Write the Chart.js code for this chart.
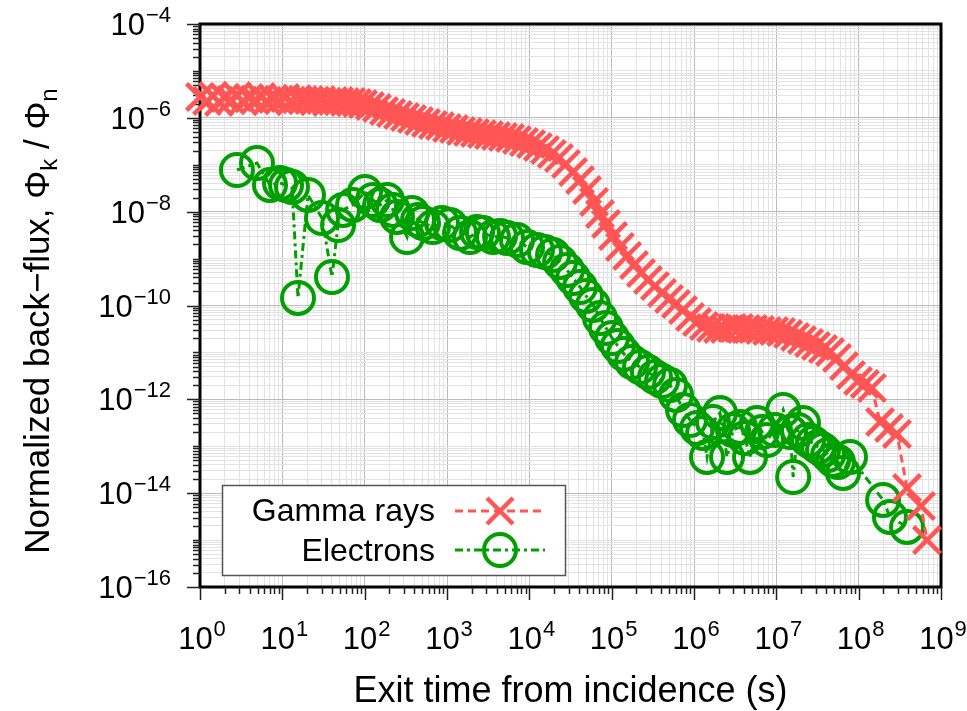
<!DOCTYPE html>
<html>
<head>
<meta charset="utf-8">
<script src="https://cdn.jsdelivr.net/npm/chart.js"></script>
<style>
  html, body { margin: 0; padding: 0; background: #ffffff; }
  #wrap { width: 967px; height: 711px; position: relative; }
</style>
</head>
<body>
<div id="wrap"><canvas id="backFluxChart"></canvas></div>
<script>
// exit time (s) and normalized back-flux
const gammaTime = [
  1.0, 1.22, 1.44, 1.70, 2.01, 2.38, 2.81, 3.33, 3.94, 4.66, 5.51, 6.51, 7.71, 9.12,
  10.8, 12.7, 15.1, 17.8, 21.1, 24.9, 29.5, 34.9, 41.2, 48.8, 57.7, 68.2, 80.7, 95.4,
  116, 141, 172, 209, 254, 309, 376, 457, 556, 676, 822, 1000, 1217, 1479, 1799, 2188,
  2661, 3236, 3936, 4786, 5821, 7080, 8610, 1.05e4, 1.27e4, 1.55e4, 1.88e4, 2.29e4,
  2.79e4, 3.40e4, 4.13e4, 5.02e4, 6.11e4, 7.22e4, 8.54e4, 1.04e5, 1.26e5, 1.54e5,
  1.87e5, 2.27e5, 2.76e5, 3.36e5, 4.09e5, 4.98e5, 6.05e5, 7.36e5, 8.95e5, 1.09e6,
  1.32e6, 1.61e6, 1.96e6, 2.38e6, 2.90e6, 3.52e6, 4.29e6, 5.21e6, 6.34e6, 7.71e6,
  9.38e6, 1.14e7, 1.39e7, 1.69e7, 2.05e7, 2.50e7, 3.03e7, 3.69e7, 4.49e7, 5.46e7,
  6.64e7, 8.07e7, 9.82e7, 1.19e8, 1.45e8, 1.82e8, 2.34e8, 2.92e8, 3.87e8, 5.71e8, 6.76e8
];
const gammaFlux = [
  2.78e-6, 2.29e-6, 2.92e-6, 2.18e-6, 2.65e-6, 2.40e-6, 2.92e-6, 2.29e-6, 2.65e-6, 2.40e-6,
  2.78e-6, 2.29e-6, 2.52e-6, 2.40e-6, 2.65e-6, 2.29e-6, 2.52e-6, 2.40e-6, 2.40e-6, 2.29e-6,
  2.40e-6, 2.18e-6, 2.29e-6, 2.29e-6, 2.18e-6, 2.18e-6, 2.07e-6, 1.97e-6, 1.79e-6, 1.62e-6,
  1.40e-6, 1.27e-6, 1.15e-6, 1.04e-6, 9.45e-7, 8.57e-7, 7.77e-7, 7.04e-7, 6.70e-7, 6.07e-7,
  5.78e-7, 5.24e-7, 4.99e-7, 4.75e-7, 4.52e-7, 4.31e-7, 4.10e-7, 3.91e-7, 3.72e-7, 3.37e-7,
  3.06e-7, 2.77e-7, 2.39e-7, 2.07e-7, 1.70e-7, 1.39e-7, 1.04e-7, 7.01e-8, 4.73e-8, 2.90e-8,
  1.61e-8, 8.93e-9, 5.46e-9, 3.03e-9, 1.77e-9, 1.14e-9, 7.31e-10, 4.93e-10, 3.50e-10, 2.61e-10,
  1.85e-10, 1.38e-10, 1.08e-10, 8.03e-11, 5.69e-11, 4.45e-11, 3.66e-11, 3.32e-11, 3.16e-11, 3.16e-11,
  3.32e-11, 3.32e-11, 3.16e-11, 3.16e-11, 3.01e-11, 2.86e-11, 2.86e-11, 2.73e-11, 2.47e-11, 2.13e-11,
  1.84e-11, 1.59e-11, 1.37e-11, 1.18e-11, 1.02e-11, 7.62e-12, 5.14e-12, 3.30e-12, 2.46e-12, 2.12e-12,
  1.75e-12, 3.29e-13, 2.45e-13, 1.83e-13, 1.29e-14, 5.33e-15, 1.00e-15
];
const electronTime = [
  2.81, 4.92, 7.08, 9.37, 11.1, 13.1, 15.5, 20.5, 30.3, 40.1, 47.5, 54.6, 72.1, 101, 126,
  154, 187, 221, 247, 327, 376, 445, 511, 676, 869, 1088, 1439, 1903, 2317, 2735, 3622,
  4406, 5358, 7080, 9376, 1.24e4, 1.55e4, 1.94e4, 2.36e4, 2.87e4, 3.40e4, 4.13e4, 4.88e4,
  5.93e4, 7.22e4, 8.54e4, 1.01e5, 1.19e5, 1.41e5, 1.77e5, 2.21e5, 2.76e5, 3.36e5, 4.09e5,
  5.12e5, 6.05e5, 7.36e5, 8.95e5, 1.09e6, 1.29e6, 1.44e6, 1.70e6, 2.07e6, 2.52e6, 2.98e6,
  3.62e6, 4.17e6, 4.79e6, 5.82e6, 6.70e6, 7.71e6, 9.64e6, 1.21e7, 1.47e7, 1.60e7, 1.83e7,
  2.11e7, 2.43e7, 2.79e7, 3.21e7, 3.69e7, 4.25e7, 4.89e7, 5.61e7, 6.46e7, 7.85e7, 1.98e8,
  2.40e8, 3.87e8
];
const electronFlux = [
  7.73e-8, 1.09e-7, 3.71e-8, 4.08e-8, 3.71e-8, 3.36e-8, 1.45e-10, 2.27e-8, 7.33e-9, 4.05e-10,
  5.20e-9, 1.09e-8, 1.39e-8, 2.63e-8, 1.77e-8, 1.39e-8, 1.77e-8, 1.09e-8, 7.71e-9, 2.88e-9,
  9.37e-9, 6.65e-9, 5.74e-9, 4.71e-9, 5.74e-9, 5.20e-9, 3.52e-9, 2.88e-9, 3.69e-9, 3.52e-9,
  2.88e-9, 3.03e-9, 2.75e-9, 2.49e-9, 1.77e-9, 1.52e-9, 1.38e-9, 1.19e-9, 8.47e-10, 5.71e-10,
  3.86e-10, 2.48e-10, 1.60e-10, 1.03e-10, 5.42e-11, 3.32e-11, 2.03e-11, 1.37e-11, 9.27e-12, 6.25e-12,
  4.89e-12, 3.83e-12, 3.00e-12, 2.46e-12, 2.02e-12, 1.24e-12, 5.93e-13, 3.63e-13, 2.45e-13, 1.92e-13,
  5.91e-14, 3.29e-13, 5.12e-13, 5.91e-14, 2.22e-13, 2.58e-13, 1.50e-13, 5.91e-14, 3.13e-13, 2.01e-13,
  1.36e-13, 2.22e-13, 5.93e-13, 2.01e-13, 2.21e-14, 2.22e-13, 3.13e-13, 1.36e-13, 1.17e-13, 9.66e-14,
  8.33e-14, 6.52e-14, 5.10e-14, 4.62e-14, 2.70e-14, 5.91e-14, 7.16e-15, 3.11e-15, 1.91e-15
];

// labelled decades on each axis
const xLabelExponents = [0, 1, 2, 3, 4, 5, 6, 7, 8, 9];
const yLabelExponents = [-16, -14, -12, -10, -8, -6, -4];
const seriesNames = ["Gamma rays", "Electrons"];
const xTitle = "Exit time from incidence (s)";

const RED = "#ff5555";
const GREEN = "#00a000";
const FONT = "'Liberation Sans', Arial, Helvetica, sans-serif";

function toPoints(xs, ys) {
  return xs.map(function (x, i) {
    return { x: x, y: ys[i] };
  });
}

// 1..9 x 10^e for every decade in the range, major ones flagged
function decadeTicks(lo, hi, labelled) {
  const out = [];
  for (let e = lo; e <= hi; e++) {
    for (let m = 1; m <= 9; m++) {
      if (e === hi && m > 1) break;
      out.push({ value: m * Math.pow(10, e), major: m === 1 && labelled.includes(e), label: "" });
    }
  }
  return out;
}

function gridColor(context) {
  return context.tick && context.tick.major ? "#bbbbbb" : "#e2e2e2";
}

function expText(e) {
  return e < 0 ? "\u2212" + Math.abs(e) : String(e);
}

function drawPower(ctx, e, x, baseY, align) {
  ctx.font = "31px " + FONT;
  const wBase = ctx.measureText("10").width;
  ctx.font = "22px " + FONT;
  const wExp = ctx.measureText(expText(e)).width;
  const total = wBase + wExp + 1;
  const start = align === "center" ? x - total / 2 : x - total;
  ctx.textAlign = "left";
  ctx.textBaseline = "alphabetic";
  ctx.fillStyle = "#000000";
  ctx.font = "31px " + FONT;
  ctx.fillText("10", start, baseY);
  ctx.font = "22px " + FONT;
  ctx.fillText(expText(e), start + wBase + 1, baseY - 13);
}

const framePlugin = {
  id: "frame",
  beforeDatasetsDraw: function (chart) {
    const ctx = chart.ctx;
    const a = chart.chartArea;
    ctx.save();
    ctx.strokeStyle = "#000000";
    ctx.lineWidth = 3;
    ctx.strokeRect(a.left, a.top, a.right - a.left, a.bottom - a.top);

    // tick marks outside the frame
    ctx.lineWidth = 1.5;
    ctx.strokeStyle = "#222222";
    chart.scales.x.ticks.forEach(function (t) {
      const px = Math.round(chart.scales.x.getPixelForValue(t.value)) + 0.5;
      const len = t.major ? 13 : 7;
      ctx.beginPath();
      ctx.moveTo(px, a.bottom);
      ctx.lineTo(px, a.bottom + len);
      ctx.stroke();
    });
    chart.scales.y.ticks.forEach(function (t) {
      const py = Math.round(chart.scales.y.getPixelForValue(t.value)) + 0.5;
      const len = t.major ? 13 : 7;
      ctx.beginPath();
      ctx.moveTo(a.left - len, py);
      ctx.lineTo(a.left, py);
      ctx.stroke();
    });

    // tick labels
    xLabelExponents.forEach(function (e) {
      const px = chart.scales.x.getPixelForValue(Math.pow(10, e));
      drawPower(ctx, e, px + 2, a.bottom + 62, "center");
    });
    yLabelExponents.forEach(function (e) {
      const py = chart.scales.y.getPixelForValue(Math.pow(10, e));
      drawPower(ctx, e, 171, py + 11, "right");
    });

    // axis titles
    ctx.fillStyle = "#000000";
    ctx.font = "36px " + FONT;
    ctx.textAlign = "center";
    ctx.textBaseline = "alphabetic";
    ctx.fillText(xTitle, (a.left + a.right) / 2, 702);

    const parts = [
      { t: "Normalized back\u2212flux, \u03a6", size: 35, dy: 0 },
      { t: "k", size: 24, dy: 8 },
      { t: " / \u03a6", size: 35, dy: 0 },
      { t: "n", size: 24, dy: 8 }
    ];
    let total = 0;
    parts.forEach(function (p) {
      ctx.font = p.size + "px " + FONT;
      p.w = ctx.measureText(p.t).width;
      total += p.w;
    });
    ctx.save();
    ctx.translate(49, 321);
    ctx.rotate(-Math.PI / 2);
    ctx.textAlign = "left";
    let cx = -total / 2;
    parts.forEach(function (p) {
      ctx.font = p.size + "px " + FONT;
      ctx.fillText(p.t, cx, p.dy);
      cx += p.w;
    });
    ctx.restore();
    ctx.restore();
  },
  afterDatasetsDraw: function (chart) {
    const ctx = chart.ctx;
    ctx.save();
    // legend box
    ctx.fillStyle = "#ffffff";
    ctx.fillRect(222, 485, 343, 90);
    ctx.strokeStyle = "#555555";
    ctx.lineWidth = 1.5;
    ctx.strokeRect(222.5, 485.5, 343, 90);

    ctx.fillStyle = "#000000";
    ctx.font = "32px " + FONT;
    ctx.textAlign = "right";
    ctx.textBaseline = "alphabetic";
    ctx.fillText(seriesNames[0], 435, 521);
    ctx.fillText(seriesNames[1], 435, 561);

    // gamma sample
    ctx.strokeStyle = RED;
    ctx.lineWidth = 3;
    ctx.setLineDash([8, 5]);
    ctx.beginPath();
    ctx.moveTo(455, 511);
    ctx.lineTo(545, 511);
    ctx.stroke();
    ctx.setLineDash([]);
    ctx.lineWidth = 4.5;
    ctx.beginPath();
    ctx.moveTo(487, 498); ctx.lineTo(513, 524);
    ctx.moveTo(513, 498); ctx.lineTo(487, 524);
    ctx.stroke();

    // electron sample
    ctx.strokeStyle = GREEN;
    ctx.lineWidth = 3;
    ctx.setLineDash([8, 4, 3, 4]);
    ctx.beginPath();
    ctx.moveTo(455, 550);
    ctx.lineTo(545, 550);
    ctx.stroke();
    ctx.setLineDash([]);
    ctx.lineWidth = 4;
    ctx.beginPath();
    ctx.arc(500, 550, 16, 0, Math.PI * 2);
    ctx.stroke();
    ctx.restore();
  }
};

new Chart(document.getElementById("backFluxChart"), {
  type: "line",
  data: {
    datasets: [{
      label: seriesNames[0],
      data: toPoints(gammaTime, gammaFlux),
      borderColor: RED,
      backgroundColor: RED,
      borderWidth: 3,
      borderDash: [8, 5],
      pointStyle: "crossRot",
      pointRadius: 19,
      pointBorderWidth: 4.5,
      pointBorderColor: RED,
      pointBackgroundColor: RED,
      tension: 0,
      fill: false,
      clip: false
    }, {
      label: seriesNames[1],
      data: toPoints(electronTime, electronFlux),
      borderColor: GREEN,
      backgroundColor: "rgba(0,0,0,0)",
      borderWidth: 3,
      borderDash: [8, 4, 3, 4],
      pointStyle: "circle",
      pointRadius: 16,
      pointBorderWidth: 4,
      pointBorderColor: GREEN,
      pointBackgroundColor: "rgba(0,0,0,0)",
      tension: 0,
      fill: false,
      clip: false
    }]
  },
  options: {
    responsive: true,
    maintainAspectRatio: false,
    animation: false,
    events: [],
    layout: {
      padding: { left: 200, top: 24, right: 26, bottom: 124 }
    },
    plugins: {
      legend: { display: false },
      tooltip: { enabled: false }
    },
    scales: {
      x: {
        type: "logarithmic",
        min: 1,
        max: 1e9,
        afterBuildTicks: function (scale) {
          scale.ticks = decadeTicks(0, 9, xLabelExponents);
        },
        ticks: { display: false },
        grid: { drawTicks: false, color: gridColor, lineWidth: 1 },
        border: { display: false }
      },
      y: {
        type: "logarithmic",
        min: 1e-16,
        max: 1e-4,
        afterBuildTicks: function (scale) {
          scale.ticks = decadeTicks(-16, -4, yLabelExponents);
        },
        ticks: { display: false },
        grid: { drawTicks: false, color: gridColor, lineWidth: 1 },
        border: { display: false }
      }
    }
  },
  plugins: [framePlugin]
});
</script>
</body>
</html>
